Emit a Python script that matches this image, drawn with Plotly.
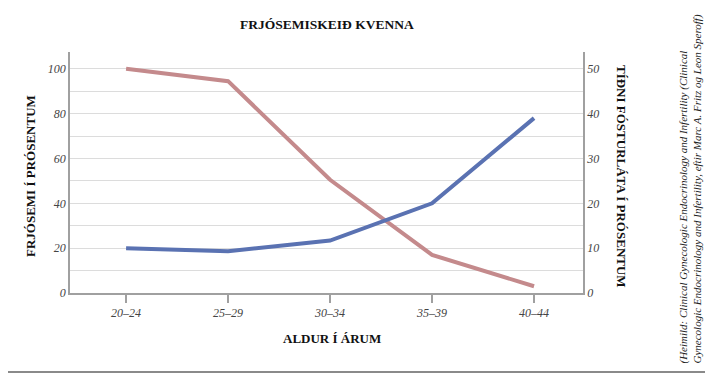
import plotly.graph_objects as go

categories = ["20–24", "25–29", "30–34", "35–39", "40–44"]
fertility = [100, 94.5, 50.5, 17, 3]
miscarriage = [10, 9.3, 11.7, 20, 39]
left_ticks = [0, 20, 40, 60, 80, 100]
right_ticks = [0, 10, 20, 30, 40, 50]

title = "FRJÓSEMISKEIÐ KVENNA"
x_title = "ALDUR Í ÁRUM"
left_title = "FRJÓSEMI Í PRÓSENTUM"
right_title = "TÍÐNI FÓSTURLÁTA Í PRÓSENTUM"
source = ("(Heimild: Clinical Gynecologic Endocrinology and Infertility (Clinical<br>"
          "Gynecologic Endocrinology and Infertility, eftir Marc A. Fritz og Leon Speroff)")

serif = "Liberation Serif, Times New Roman, serif"
red = "#c48a8c"
blue = "#5a72b2"
grid = "#dcdcdc"
axis_c = "#a0a0a0"

fig = go.Figure()
fig.add_trace(go.Scatter(x=categories, y=fertility, mode="lines",
                         line=dict(color=red, width=4), yaxis="y", name="Frjósemi"))
fig.add_trace(go.Scatter(x=categories, y=miscarriage, mode="lines",
                         line=dict(color=blue, width=4), yaxis="y2", name="Fósturlát"))

tickfont = dict(family=serif, size=12, color="#444444", style="italic")

# page body has an 8px margin, so work in window pixels and shift
OFF = 8
W, H = 713 - OFF, 376 - OFF
L, T = 70 - OFF, 52 - OFF
R = W - (583 - OFF)
B = H - (293 - OFF)
pw, ph = W - L - R, H - T - B

def px(xw):
    return (xw - OFF - L) / pw

def py(yw):
    return (H - B - (yw - OFF)) / ph

fig.update_layout(
    width=W, height=H,
    margin=dict(l=L, r=R, t=T, b=B, autoexpand=False),
    plot_bgcolor="white", paper_bgcolor="white",
    showlegend=False,
    xaxis=dict(
        type="category", range=[-0.55, 4.48],
        showgrid=False, showline=True, linecolor=axis_c, linewidth=1.5,
        ticks="outside", ticklen=8, tickcolor=axis_c, tickwidth=1.5,
        tickfont=tickfont, zeroline=False,
    ),
    yaxis=dict(
        range=[0, 107.5], tickvals=left_ticks,
        showgrid=True, gridcolor=grid, gridwidth=1,
        minor=dict(dtick=10, showgrid=True, gridcolor=grid, gridwidth=1, tick0=0),
        showline=True, linecolor=axis_c, linewidth=1.5,
        ticks="", tickfont=tickfont, zeroline=False,
    ),
    yaxis2=dict(
        range=[0, 53.75], tickvals=right_ticks, overlaying="y", side="right",
        showgrid=False, showline=True, linecolor=axis_c, linewidth=1.5,
        ticks="", tickfont=tickfont, zeroline=False,
    ),
    font=dict(family=serif),
)

annos = [
    dict(text="<b>" + title + "</b>", x=px(327), y=py(25), font=dict(family=serif, size=13.5, color="#111")),
    dict(text="<b>" + x_title + "</b>", x=px(332), y=py(338), font=dict(family=serif, size=13, color="#111")),
    dict(text="<b>" + left_title + "</b>", x=px(30), y=py(176), textangle=-90,
         font=dict(family=serif, size=13, color="#111")),
    dict(text="<b>" + right_title + "</b>", x=px(622), y=py(176), textangle=90,
         font=dict(family=serif, size=13, color="#111")),
    dict(text="<i>" + source + "</i>", x=px(690), y=py(366), textangle=-90,
         yanchor="bottom", xanchor="center", align="left",
         font=dict(family=serif, size=11, color="#222")),
]
for a in annos:
    a.setdefault("xanchor", "center")
    a.setdefault("yanchor", "middle")
    fig.add_annotation(xref="paper", yref="paper", showarrow=False, **a)

fig.add_shape(type="line", xref="paper", yref="paper",
              x0=px(0), x1=px(713), y0=py(372), y1=py(372),
              line=dict(color="#8a8a8a", width=2))

fig.write_html("out.html")
